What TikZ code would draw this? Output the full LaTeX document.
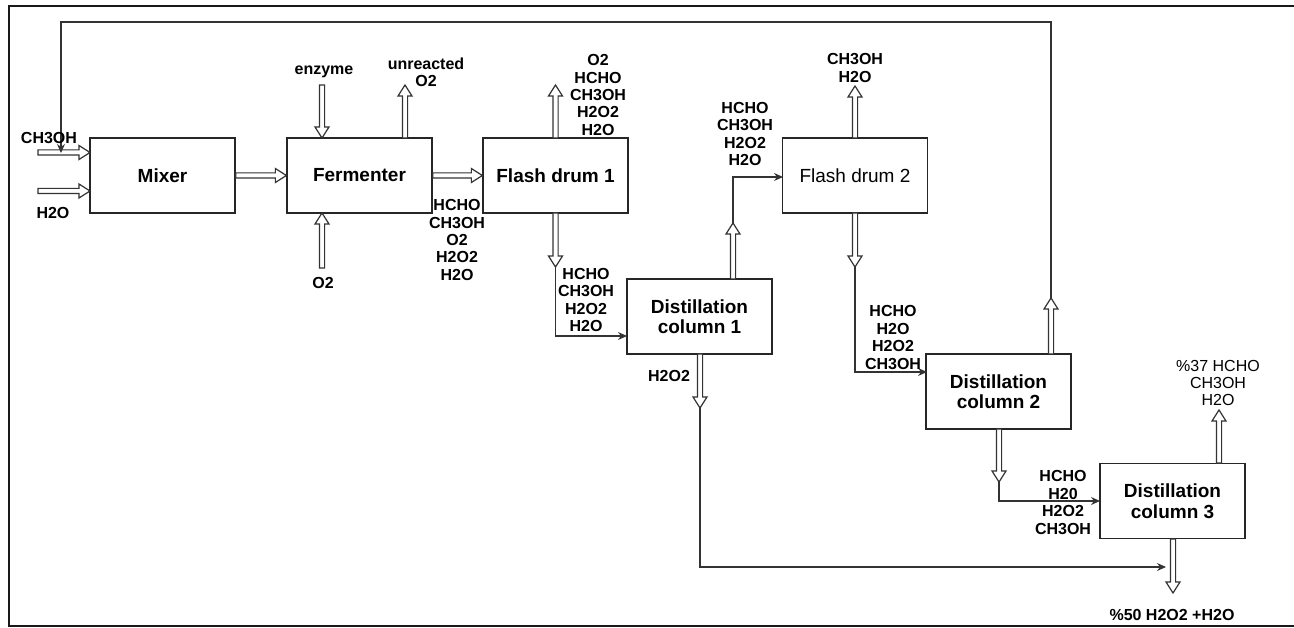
\documentclass[tikz,border=0pt]{standalone}
\usepackage{fontspec}
\setmainfont{Liberation Sans}
\usetikzlibrary{calc,arrows.meta}
\tikzset{
 box/.style={draw=black!85, line width=1.3pt, minimum width=145pt, minimum height=75pt, inner sep=0pt, align=center, font=\fontsize{19}{20.5}\selectfont\bfseries},
 lbl/.style={inner sep=0pt, align=center, font=\fontsize{16}{17.4}\selectfont\bfseries},
 lblr/.style={inner sep=0pt, align=center, font=\fontsize{16}{17.4}\selectfont},
 flow/.style={draw=black!80, line width=1.2pt, -{Stealth[length=9pt,width=8pt]}},
 flexline/.style={draw=black!80, line width=1.2pt, fill=white, line join=miter},
 frame/.style={draw=black!90, line width=2pt},
}
\newcommand\flexarrow[2]{%
 \path ($(#2)!11pt!(#1)$) coordinate (hc);
 \filldraw[flexline] ($(#1)!2.6pt!90:(#2)$) -- ($(hc)!2.6pt!90:(#2)$) -- ($(hc)!7pt!90:(#2)$) -- (#2) -- ($(hc)!7pt!-90:(#2)$) -- ($(hc)!2.6pt!-90:(#2)$) -- ($(#1)!2.6pt!-90:(#2)$) -- cycle;}
\begin{document}
\begin{tikzpicture}[x=1pt,y=-1pt]
\useasboundingbox (0,0) rectangle (1294,628);
\draw[frame] (1300,6) -- (9,6) -- (9,626) -- (1300,626);

% boxes
\node[box] (mixer) at (162.5,175.5) {Mixer};
\node[box] (ferm) at (359.5,175.5) {Fermenter};
\node[box] (fd1) at (555.5,175.5) {Flash drum 1};
\node[box, font=\fontsize{19}{20.5}\selectfont] (fd2) at (855,175.5) {Flash drum 2};
\node[box] (dc1) at (699.5,316.5) {Distillation\\column 1};
\node[box] (dc2) at (998.5,391.5) {Distillation\\column 2};
\node[box] (dc3) at (1172.5,501) {Distillation\\column 3};

% coordinates
\coordinate (ch3s) at (38,152.5);  \coordinate (ch3t) at (90,152.5);
\coordinate (h2os) at (38,191);    \coordinate (h2ot) at (90,191);
\coordinate (ens) at (322,85);     \coordinate (ent) at (322,138);
\coordinate (o2s) at (322,268);    \coordinate (o2t) at (322,213);
\coordinate (uns) at (405,138);    \coordinate (unt) at (405,85);
\coordinate (f1us) at (555.5,138); \coordinate (f1ut) at (555.5,85);
\coordinate (f1ds) at (555.5,213); \coordinate (f1dt) at (555.5,267);
\coordinate (dc1in) at (627,336);
\coordinate (c1us) at (733,279);   \coordinate (c1ut) at (733,223);
\coordinate (fd2in) at (783,177);
\coordinate (c1ds) at (700,354);   \coordinate (c1dt) at (700,408);
\coordinate (c1end) at (1166,567);
\coordinate (f2us) at (855,138);   \coordinate (f2ut) at (855,86);
\coordinate (f2ds) at (855,213);   \coordinate (f2dt) at (855,267);
\coordinate (dc2in) at (927,372);
\coordinate (c2us) at (1051,354);  \coordinate (c2ut) at (1051,298);
\coordinate (rtop) at (61,22);     \coordinate (rend) at (61,153);
\coordinate (c2ds) at (999,429);   \coordinate (c2dt) at (999,482);
\coordinate (dc3in) at (1100,501);
\coordinate (c3us) at (1219,463);  \coordinate (c3ut) at (1219,410);
\coordinate (c3ds) at (1173,539);  \coordinate (c3dt) at (1173,593);

% hollow arrows
\flexarrow{ch3s}{ch3t}
\flexarrow{h2os}{h2ot}
\flexarrow{mixer.east}{ferm.west}
\flexarrow{ens}{ent}
\flexarrow{o2s}{o2t}
\flexarrow{uns}{unt}
\flexarrow{ferm.east}{fd1.west}
\flexarrow{f1us}{f1ut}
\flexarrow{f1ds}{f1dt}
\flexarrow{c1us}{c1ut}
\flexarrow{c1ds}{c1dt}
\flexarrow{f2us}{f2ut}
\flexarrow{f2ds}{f2dt}
\flexarrow{c2us}{c2ut}
\flexarrow{c2ds}{c2dt}
\flexarrow{c3us}{c3ut}
\flexarrow{c3ds}{c3dt}

% thin flows
\draw[flow] (f1dt) |- (dc1in);
\draw[flow] (c1ut) |- (fd2in);
\draw[flow] (c1dt) |- (c1end);
\draw[flow] (f2dt) |- (dc2in);
\draw[flow] (c2ut) |- (rtop) -- (rend);
\draw[flow] (c2dt) |- (dc3in);

% labels
\node[lbl] (lch3) at (49,138) {CH3OH};
\node[lbl] (lh2o) at (53,213) {H2O};
\node[lbl] (lenz) at (324,72) {enzyme};
\node[lbl] (lo2) at (323,283) {O2};
\node[lbl] (lunr) at (426,72) {unreacted\\O2};
\node[lbl] (lfout) at (457,240) {HCHO\\CH3OH\\O2\\H2O2\\H2O};
\node[lbl] (lf1u) at (598,95) {O2\\HCHO\\CH3OH\\H2O2\\H2O};
\node[lbl] (lf1d) at (586,300) {HCHO\\CH3OH\\H2O2\\H2O};
\node[lbl] (lc1u) at (745,134) {HCHO\\CH3OH\\H2O2\\H2O};
\node[lbl] (lc1d) at (669,376) {H2O2};
\node[lbl] (lf2u) at (855,68) {CH3OH\\H2O};
\node[lbl] (lf2d) at (893,337.5) {HCHO\\H2O\\H2O2\\CH3OH};
\node[lbl] (lc2d) at (1063,502.5) {HCHO\\H20\\H2O2\\CH3OH};
\node[lblr] (lc3u) at (1218,383) {\%37 HCHO\\CH3OH\\H2O};
\node[lbl] (lc3d) at (1172,615) {\%50 H2O2 +H2O};
\end{tikzpicture}
\end{document}
